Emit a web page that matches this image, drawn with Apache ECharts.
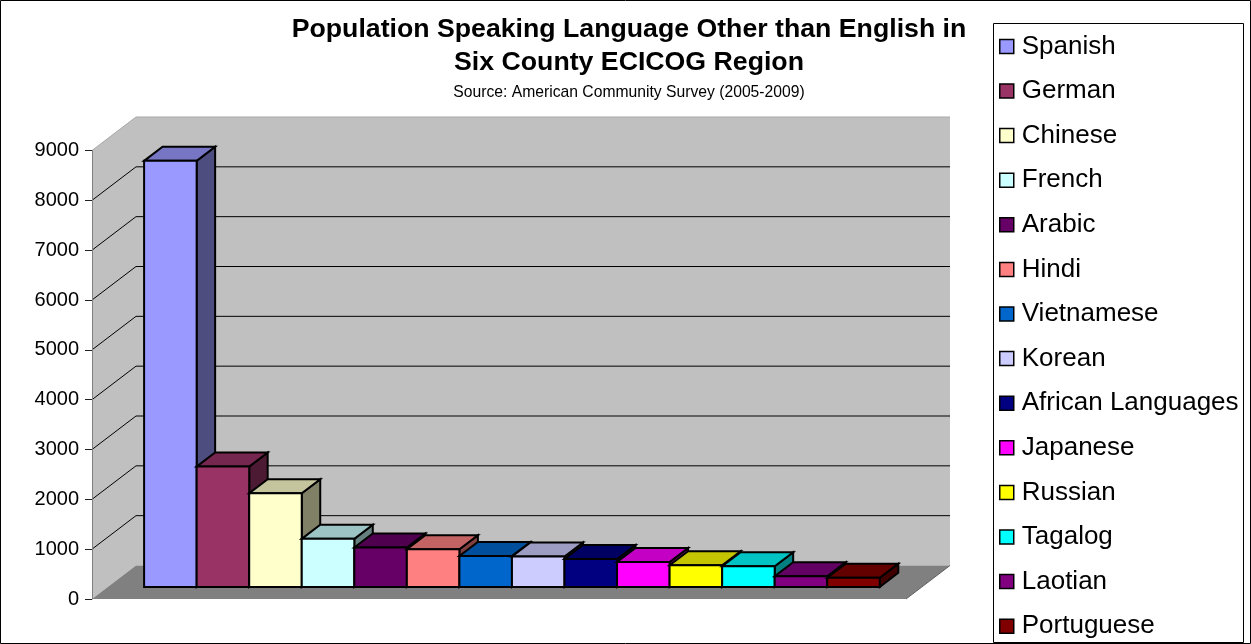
<!DOCTYPE html>
<html>
<head>
<meta charset="utf-8">
<script src="https://cdn.jsdelivr.net/npm/echarts@6/dist/echarts.min.js"></script>
<style>
html,body{margin:0;padding:0;background:#fff;}
#chart{width:1251px;height:644px;}
</style>
</head>
<body>
<div id="chart"></div>
<script>
// ---- data ----
const categories = ['Spanish','German','Chinese','French','Arabic','Hindi','Vietnamese','Korean','African Languages','Japanese','Russian','Tagalog','Laotian','Portuguese'];
const speakers = [8550, 2415, 1880, 965, 790, 755, 620, 610, 560, 500, 435, 415, 215, 185];
const yTicks = [0, 1000, 2000, 3000, 4000, 5000, 6000, 7000, 8000, 9000];
const barColors = ['#9999FF','#993366','#FFFFCC','#CCFFFF','#660066','#FF8080','#0066CC','#CCCCFF','#000080','#FF00FF','#FFFF00','#00FFFF','#800080','#800000'];

// ---- 3D projection settings (style) ----
const DX = 44, DY = -33.5;       // full depth offset of walls
const F0 = 0.36, F1 = 0.78;      // bar front / back depth fractions
const XMIN = -0.69, XMAX = 14.8; // floor extent on hidden x scale
const YMAX = yTicks[yTicks.length - 1];

function shade(hex, k) {
  const n = parseInt(hex.slice(1), 16);
  const r = Math.round(((n >> 16) & 255) * k), g = Math.round(((n >> 8) & 255) * k), b = Math.round((n & 255) * k);
  return 'rgb(' + r + ',' + g + ',' + b + ')';
}

function proj(api, x, v, f) {
  const p = api.coord([x, v]);
  return [p[0] + f * DX, p[1] + f * DY];
}

function renderFrame(params, api) {
  const P = (x, v, f) => proj(api, x, v, f);
  const children = [];
  children.push({ type: 'polygon', shape: { points: [P(XMIN,0,1), P(XMAX,0,1), P(XMAX,YMAX,1), P(XMIN,YMAX,1)] }, style: { fill: '#C0C0C0' } });
  children.push({ type: 'polygon', shape: { points: [P(XMIN,0,0), P(XMIN,0,1), P(XMIN,YMAX,1), P(XMIN,YMAX,0)] }, style: { fill: '#C0C0C0' } });
  children.push({ type: 'polygon', shape: { points: [P(XMIN,0,0), P(XMAX,0,0), P(XMAX,0,1), P(XMIN,0,1)] }, style: { fill: '#808080' } });
  yTicks.forEach(v => {
    if (v === 0 || v === YMAX) return;
    children.push({ type: 'polyline', shape: { points: [P(XMIN,v,0), P(XMIN,v,1), P(XMAX,v,1)] }, style: { stroke: '#000', lineWidth: 1, fill: null } });
  });
  children.push({ type: 'polyline', shape: { points: [P(XMIN,YMAX,0), P(XMIN,YMAX,1), P(XMAX,YMAX,1)] }, style: { stroke: '#A8A8A8', lineWidth: 1, fill: null } });
  children.push({ type: 'line', shape: { x1: P(XMAX,0,0)[0], y1: P(XMAX,0,0)[1], x2: P(XMAX,0,1)[0], y2: P(XMAX,0,1)[1] }, style: { stroke: '#606060', lineWidth: 1 } });
  return { type: 'group', children: children };
}

function makeBarRenderer(color) {
  return function (params, api) {
    const P = (x, v, f) => proj(api, x, v, f);
    const i = api.value(0), v = api.value(1);
    const x0 = i, x1 = i + 1;
    const st = (fill) => ({ fill: fill, stroke: '#000', lineWidth: 2, lineJoin: 'miter' });
    return {
      type: 'group',
      children: [
        { type: 'polygon', shape: { points: [P(x1,0,F0), P(x1,0,F1), P(x1,v,F1), P(x1,v,F0)] }, style: st(shade(color, 0.5)) },
        { type: 'polygon', shape: { points: [P(x0,v,F0), P(x1,v,F0), P(x1,v,F1), P(x0,v,F1)] }, style: st(shade(color, 0.77)) },
        { type: 'polygon', shape: { points: [P(x0,0,F0), P(x1,0,F0), P(x1,v,F0), P(x0,v,F0)] }, style: st(color) }
      ]
    };
  };
}

const series = [{
  type: 'custom', name: '__frame', silent: true, z: 1,
  data: [[0, 0]], encode: { x: 0, y: 1 },
  renderItem: renderFrame
}];
categories.forEach((name, i) => {
  series.push({
    type: 'custom', name: name, z: 2,
    itemStyle: { color: barColors[i] },
    data: [[i, speakers[i]]], encode: { x: 0, y: 1 },
    renderItem: makeBarRenderer(barColors[i])
  });
});

const FONT = 'Liberation Sans, Arial, sans-serif';
const chart = echarts.init(document.getElementById('chart'), null, { renderer: 'canvas' });
chart.setOption({
  animation: false,
  backgroundColor: '#fff',
  title: {
    text: 'Population Speaking Language Other than English in\nSix County ECICOG Region',
    subtext: 'Source: American Community Survey (2005-2009)',
    left: 629, top: 13.5, textAlign: 'center', padding: 0, itemGap: 5,
    textStyle: { fontFamily: FONT, fontSize: 26.7, fontWeight: 'bold', color: '#000', lineHeight: 33 },
    subtextStyle: { fontFamily: FONT, fontSize: 15.7, color: '#000', lineHeight: 17 }
  },
  legend: {
    data: categories, orient: 'vertical', left: 999, top: 31.4, padding: 0,
    icon: 'rect', itemWidth: 14, itemHeight: 14, itemGap: 14.6,
    itemStyle: { borderColor: '#000', borderWidth: 1.5 },
    textStyle: { fontFamily: FONT, fontSize: 26, color: '#000', lineHeight: 30, padding: [0, 0, 0, 3] },
    selectedMode: false
  },
  grid: { left: 92, top: 150.5, width: 814, height: 448.5, containLabel: false, outerBoundsMode: 'none' },
  xAxis: { type: 'value', min: XMIN, max: XMAX, show: false },
  yAxis: {
    type: 'value', min: 0, max: YMAX, interval: 1000, z: 5,
    axisLine: { show: true, onZero: false, lineStyle: { color: '#808080', width: 1 } },
    axisTick: { show: true, length: 7, lineStyle: { color: '#202020', width: 1 } },
    axisLabel: { fontFamily: FONT, fontSize: 20, color: '#000', margin: 13, formatter: v => String(v) },
    splitLine: { show: false }
  },
  graphic: [
    { type: 'rect', shape: { x: 0.5, y: 0.5, width: 1250, height: 643 }, style: { fill: null, stroke: '#000', lineWidth: 1 }, z: 100, silent: true },
    { type: 'rect', shape: { x: 993.5, y: 23.5, width: 250, height: 619 }, style: { fill: null, stroke: '#000', lineWidth: 1 }, z: 100, silent: true }
  ],
  series: series
});
</script>
</body>
</html>
